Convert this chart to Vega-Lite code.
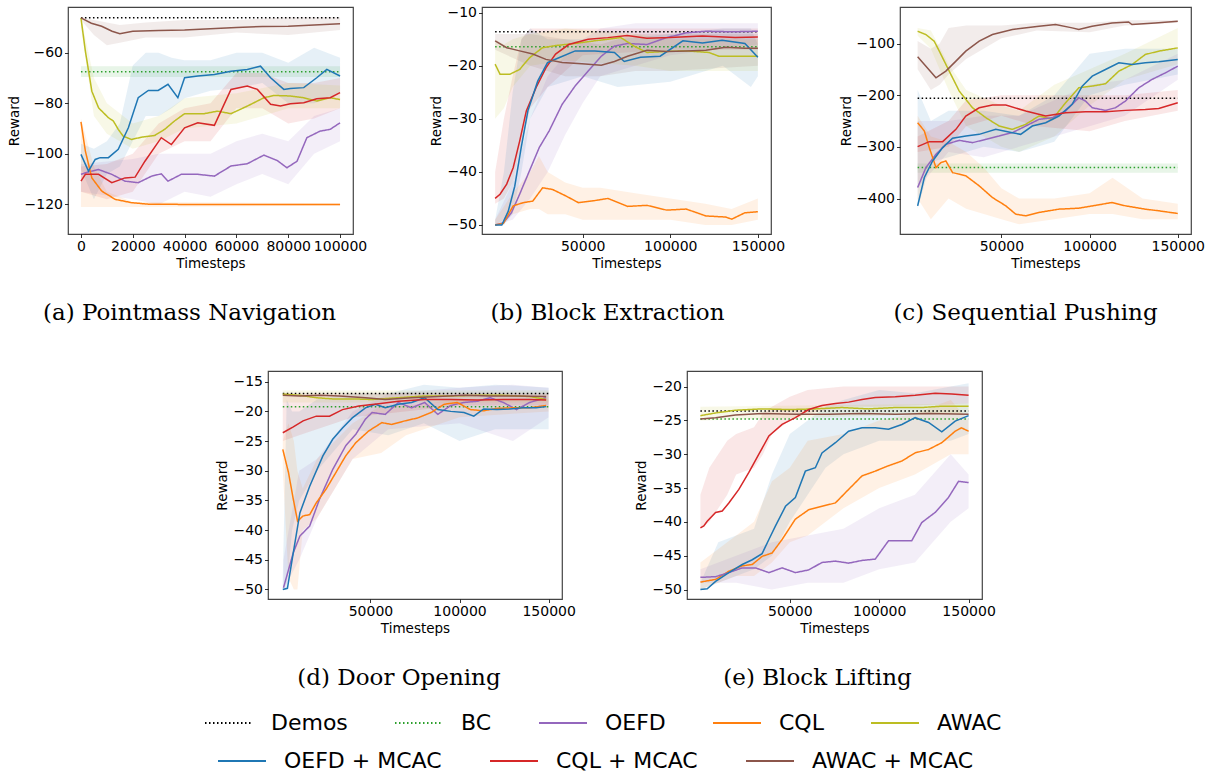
{
"$schema": "https://vega.github.io/schema/vega-lite/v6.json",
"padding": {"left": 6, "top": 5, "right": 5, "bottom": 5},
"background": "white",
"datasets": {
"lines": [
{"p":"a","m":"Demos","x":0,"y":-46.2},{"p":"a","m":"Demos","x":100000,"y":-46.2},
{"p":"a","m":"BC","x":0,"y":-67.5},{"p":"a","m":"BC","x":100000,"y":-67.5},
{"p":"a","m":"OEFD","x":0,"y":-108.1},{"p":"a","m":"OEFD","x":2900,"y":-107.1},{"p":"a","m":"OEFD","x":6800,"y":-106.2},{"p":"a","m":"OEFD","x":11900,"y":-108.1},{"p":"a","m":"OEFD","x":17000,"y":-110.8},{"p":"a","m":"OEFD","x":22100,"y":-111.4},{"p":"a","m":"OEFD","x":27300,"y":-108.8},{"p":"a","m":"OEFD","x":31000,"y":-107.9},{"p":"a","m":"OEFD","x":33600,"y":-110.8},{"p":"a","m":"OEFD","x":38700,"y":-108.1},{"p":"a","m":"OEFD","x":45100,"y":-108.1},{"p":"a","m":"OEFD","x":51500,"y":-108.8},{"p":"a","m":"OEFD","x":57900,"y":-104.8},{"p":"a","m":"OEFD","x":64200,"y":-103.9},{"p":"a","m":"OEFD","x":70600,"y":-100.5},{"p":"a","m":"OEFD","x":75700,"y":-102.6},{"p":"a","m":"OEFD","x":79500,"y":-105.5},{"p":"a","m":"OEFD","x":83400,"y":-102.9},{"p":"a","m":"OEFD","x":87200,"y":-93.6},{"p":"a","m":"OEFD","x":92300,"y":-91},{"p":"a","m":"OEFD","x":96200,"y":-90.3},{"p":"a","m":"OEFD","x":100000,"y":-87.7},
{"p":"a","m":"CQL","x":0,"y":-87.3},{"p":"a","m":"CQL","x":1700,"y":-98.9},{"p":"a","m":"CQL","x":4200,"y":-109.5},{"p":"a","m":"CQL","x":8000,"y":-114.7},{"p":"a","m":"CQL","x":13200,"y":-118},{"p":"a","m":"CQL","x":19500,"y":-119.3},{"p":"a","m":"CQL","x":26000,"y":-119.9},{"p":"a","m":"CQL","x":40000,"y":-120},{"p":"a","m":"CQL","x":100000,"y":-120},
{"p":"a","m":"AWAC","x":0,"y":-46.2},{"p":"a","m":"AWAC","x":1700,"y":-59.3},{"p":"a","m":"AWAC","x":4200,"y":-75.2},{"p":"a","m":"AWAC","x":6800,"y":-81.8},{"p":"a","m":"AWAC","x":10600,"y":-85.7},{"p":"a","m":"AWAC","x":12500,"y":-87},{"p":"a","m":"AWAC","x":14400,"y":-90.3},{"p":"a","m":"AWAC","x":16300,"y":-93},{"p":"a","m":"AWAC","x":19500,"y":-94.3},{"p":"a","m":"AWAC","x":23400,"y":-93.4},{"p":"a","m":"AWAC","x":28500,"y":-92.7},{"p":"a","m":"AWAC","x":32300,"y":-90.3},{"p":"a","m":"AWAC","x":36100,"y":-87},{"p":"a","m":"AWAC","x":40000,"y":-84.1},{"p":"a","m":"AWAC","x":47600,"y":-84.1},{"p":"a","m":"AWAC","x":52700,"y":-83.1},{"p":"a","m":"AWAC","x":57900,"y":-84.1},{"p":"a","m":"AWAC","x":64200,"y":-81.1},{"p":"a","m":"AWAC","x":70600,"y":-77.8},{"p":"a","m":"AWAC","x":74500,"y":-76.9},{"p":"a","m":"AWAC","x":80800,"y":-77.1},{"p":"a","m":"AWAC","x":86000,"y":-77.8},{"p":"a","m":"AWAC","x":91000,"y":-79.1},{"p":"a","m":"AWAC","x":96200,"y":-77.8},{"p":"a","m":"AWAC","x":100000,"y":-78.5},
{"p":"a","m":"OEFD + MCAC","x":0,"y":-100.2},{"p":"a","m":"OEFD + MCAC","x":2900,"y":-106.8},{"p":"a","m":"OEFD + MCAC","x":5500,"y":-102.2},{"p":"a","m":"OEFD + MCAC","x":7400,"y":-101.5},{"p":"a","m":"OEFD + MCAC","x":10600,"y":-101.5},{"p":"a","m":"OEFD + MCAC","x":14400,"y":-98.2},{"p":"a","m":"OEFD + MCAC","x":18300,"y":-89.7},{"p":"a","m":"OEFD + MCAC","x":22100,"y":-77.8},{"p":"a","m":"OEFD + MCAC","x":26000,"y":-74.9},{"p":"a","m":"OEFD + MCAC","x":29800,"y":-74.9},{"p":"a","m":"OEFD + MCAC","x":33600,"y":-72.5},{"p":"a","m":"OEFD + MCAC","x":37400,"y":-77.8},{"p":"a","m":"OEFD + MCAC","x":40000,"y":-69.9},{"p":"a","m":"OEFD + MCAC","x":45100,"y":-69.2},{"p":"a","m":"OEFD + MCAC","x":51500,"y":-68.6},{"p":"a","m":"OEFD + MCAC","x":57900,"y":-67.3},{"p":"a","m":"OEFD + MCAC","x":64200,"y":-66.6},{"p":"a","m":"OEFD + MCAC","x":69300,"y":-65.3},{"p":"a","m":"OEFD + MCAC","x":73200,"y":-69.9},{"p":"a","m":"OEFD + MCAC","x":78300,"y":-74.5},{"p":"a","m":"OEFD + MCAC","x":80800,"y":-74.1},{"p":"a","m":"OEFD + MCAC","x":86000,"y":-73.8},{"p":"a","m":"OEFD + MCAC","x":91000,"y":-69.9},{"p":"a","m":"OEFD + MCAC","x":94900,"y":-66.6},{"p":"a","m":"OEFD + MCAC","x":100000,"y":-69.2},
{"p":"a","m":"CQL + MCAC","x":0,"y":-110.8},{"p":"a","m":"CQL + MCAC","x":1700,"y":-108.1},{"p":"a","m":"CQL + MCAC","x":6800,"y":-108.1},{"p":"a","m":"CQL + MCAC","x":11900,"y":-111.4},{"p":"a","m":"CQL + MCAC","x":17000,"y":-109.5},{"p":"a","m":"CQL + MCAC","x":20900,"y":-109.2},{"p":"a","m":"CQL + MCAC","x":24700,"y":-102.9},{"p":"a","m":"CQL + MCAC","x":31000,"y":-93.6},{"p":"a","m":"CQL + MCAC","x":34900,"y":-96.3},{"p":"a","m":"CQL + MCAC","x":40000,"y":-89.7},{"p":"a","m":"CQL + MCAC","x":45100,"y":-87.7},{"p":"a","m":"CQL + MCAC","x":51500,"y":-88.7},{"p":"a","m":"CQL + MCAC","x":57900,"y":-74.5},{"p":"a","m":"CQL + MCAC","x":64200,"y":-73.2},{"p":"a","m":"CQL + MCAC","x":68100,"y":-74.5},{"p":"a","m":"CQL + MCAC","x":73200,"y":-80.4},{"p":"a","m":"CQL + MCAC","x":77000,"y":-81.1},{"p":"a","m":"CQL + MCAC","x":80800,"y":-80.2},{"p":"a","m":"CQL + MCAC","x":86000,"y":-79.8},{"p":"a","m":"CQL + MCAC","x":91000,"y":-78.2},{"p":"a","m":"CQL + MCAC","x":96200,"y":-77.8},{"p":"a","m":"CQL + MCAC","x":100000,"y":-75.8},
{"p":"a","m":"AWAC + MCAC","x":0,"y":-46.2},{"p":"a","m":"AWAC + MCAC","x":4000,"y":-48.3},{"p":"a","m":"AWAC + MCAC","x":8000,"y":-49.5},{"p":"a","m":"AWAC + MCAC","x":12000,"y":-51.5},{"p":"a","m":"AWAC + MCAC","x":15000,"y":-52.5},{"p":"a","m":"AWAC + MCAC","x":20000,"y":-51.5},{"p":"a","m":"AWAC + MCAC","x":30000,"y":-51.2},{"p":"a","m":"AWAC + MCAC","x":40000,"y":-51},{"p":"a","m":"AWAC + MCAC","x":50000,"y":-50.5},{"p":"a","m":"AWAC + MCAC","x":60000,"y":-50},{"p":"a","m":"AWAC + MCAC","x":70000,"y":-49.6},{"p":"a","m":"AWAC + MCAC","x":80000,"y":-49.5},{"p":"a","m":"AWAC + MCAC","x":90000,"y":-49},{"p":"a","m":"AWAC + MCAC","x":100000,"y":-48.5},

{"p":"b","m":"Demos","x":0,"y":-13.6},{"p":"b","m":"Demos","x":150000,"y":-13.6},
{"p":"b","m":"BC","x":0,"y":-16.4},{"p":"b","m":"BC","x":150000,"y":-16.4},
{"p":"b","m":"CQL + MCAC","x":0,"y":-45},{"p":"b","m":"CQL + MCAC","x":2800,"y":-44.2},{"p":"b","m":"CQL + MCAC","x":6600,"y":-42.3},{"p":"b","m":"CQL + MCAC","x":10300,"y":-39.2},{"p":"b","m":"CQL + MCAC","x":14000,"y":-34.2},{"p":"b","m":"CQL + MCAC","x":17800,"y":-28.5},{"p":"b","m":"CQL + MCAC","x":23400,"y":-24.1},{"p":"b","m":"CQL + MCAC","x":29000,"y":-20.4},{"p":"b","m":"CQL + MCAC","x":34500,"y":-17.8},{"p":"b","m":"CQL + MCAC","x":42000,"y":-16},{"p":"b","m":"CQL + MCAC","x":53100,"y":-15},{"p":"b","m":"CQL + MCAC","x":64300,"y":-14.7},{"p":"b","m":"CQL + MCAC","x":75400,"y":-14.3},{"p":"b","m":"CQL + MCAC","x":86600,"y":-14.8},{"p":"b","m":"CQL + MCAC","x":99700,"y":-14.7},{"p":"b","m":"CQL + MCAC","x":118300,"y":-14.4},{"p":"b","m":"CQL + MCAC","x":137000,"y":-14.7},{"p":"b","m":"CQL + MCAC","x":150000,"y":-14.6},
{"p":"b","m":"OEFD + MCAC","x":0,"y":-50},{"p":"b","m":"OEFD + MCAC","x":3800,"y":-50},{"p":"b","m":"OEFD + MCAC","x":7500,"y":-47.4},{"p":"b","m":"OEFD + MCAC","x":11200,"y":-42.7},{"p":"b","m":"OEFD + MCAC","x":14900,"y":-35.4},{"p":"b","m":"OEFD + MCAC","x":18700,"y":-28.5},{"p":"b","m":"OEFD + MCAC","x":24300,"y":-22.9},{"p":"b","m":"OEFD + MCAC","x":29900,"y":-19.4},{"p":"b","m":"OEFD + MCAC","x":36400,"y":-18.5},{"p":"b","m":"OEFD + MCAC","x":45700,"y":-17.2},{"p":"b","m":"OEFD + MCAC","x":56900,"y":-17.2},{"p":"b","m":"OEFD + MCAC","x":68100,"y":-17.5},{"p":"b","m":"OEFD + MCAC","x":73700,"y":-19.2},{"p":"b","m":"OEFD + MCAC","x":83000,"y":-18.4},{"p":"b","m":"OEFD + MCAC","x":94200,"y":-18.2},{"p":"b","m":"OEFD + MCAC","x":107200,"y":-15.3},{"p":"b","m":"OEFD + MCAC","x":118400,"y":-15.7},{"p":"b","m":"OEFD + MCAC","x":129600,"y":-15.2},{"p":"b","m":"OEFD + MCAC","x":142600,"y":-15.8},{"p":"b","m":"OEFD + MCAC","x":150000,"y":-18.4},
{"p":"b","m":"OEFD","x":0,"y":-50},{"p":"b","m":"OEFD","x":4700,"y":-49.6},{"p":"b","m":"OEFD","x":9300,"y":-47.7},{"p":"b","m":"OEFD","x":14000,"y":-44.2},{"p":"b","m":"OEFD","x":19600,"y":-39.8},{"p":"b","m":"OEFD","x":25200,"y":-35.4},{"p":"b","m":"OEFD","x":30800,"y":-32.3},{"p":"b","m":"OEFD","x":38200,"y":-27.3},{"p":"b","m":"OEFD","x":45700,"y":-23.8},{"p":"b","m":"OEFD","x":53100,"y":-21},{"p":"b","m":"OEFD","x":60600,"y":-18.2},{"p":"b","m":"OEFD","x":68100,"y":-16.3},{"p":"b","m":"OEFD","x":75600,"y":-15.8},{"p":"b","m":"OEFD","x":86700,"y":-16},{"p":"b","m":"OEFD","x":97900,"y":-14.7},{"p":"b","m":"OEFD","x":109100,"y":-13.8},{"p":"b","m":"OEFD","x":120300,"y":-13.5},{"p":"b","m":"OEFD","x":135100,"y":-13.6},{"p":"b","m":"OEFD","x":150000,"y":-13.5},
{"p":"b","m":"CQL","x":0,"y":-50},{"p":"b","m":"CQL","x":4700,"y":-49.7},{"p":"b","m":"CQL","x":10300,"y":-46.4},{"p":"b","m":"CQL","x":15900,"y":-45.8},{"p":"b","m":"CQL","x":21500,"y":-45.5},{"p":"b","m":"CQL","x":27100,"y":-43},{"p":"b","m":"CQL","x":32700,"y":-43.3},{"p":"b","m":"CQL","x":40200,"y":-44.5},{"p":"b","m":"CQL","x":47600,"y":-45.8},{"p":"b","m":"CQL","x":56900,"y":-45.4},{"p":"b","m":"CQL","x":64400,"y":-45},{"p":"b","m":"CQL","x":75600,"y":-46.5},{"p":"b","m":"CQL","x":86700,"y":-46.3},{"p":"b","m":"CQL","x":97900,"y":-47.2},{"p":"b","m":"CQL","x":109100,"y":-47},{"p":"b","m":"CQL","x":120300,"y":-48.3},{"p":"b","m":"CQL","x":131500,"y":-48.5},{"p":"b","m":"CQL","x":135100,"y":-48.9},{"p":"b","m":"CQL","x":142600,"y":-47.7},{"p":"b","m":"CQL","x":150000,"y":-47.5},
{"p":"b","m":"AWAC","x":0,"y":-19.7},{"p":"b","m":"AWAC","x":2800,"y":-21.6},{"p":"b","m":"AWAC","x":8400,"y":-21.6},{"p":"b","m":"AWAC","x":14000,"y":-20.7},{"p":"b","m":"AWAC","x":19600,"y":-18.5},{"p":"b","m":"AWAC","x":27000,"y":-16.6},{"p":"b","m":"AWAC","x":34500,"y":-16.2},{"p":"b","m":"AWAC","x":45700,"y":-15.8},{"p":"b","m":"AWAC","x":56900,"y":-15.3},{"p":"b","m":"AWAC","x":71800,"y":-14.7},{"p":"b","m":"AWAC","x":79300,"y":-16.3},{"p":"b","m":"AWAC","x":86700,"y":-17.5},{"p":"b","m":"AWAC","x":97900,"y":-17.3},{"p":"b","m":"AWAC","x":109100,"y":-17.2},{"p":"b","m":"AWAC","x":122100,"y":-17.5},{"p":"b","m":"AWAC","x":127700,"y":-18.2},{"p":"b","m":"AWAC","x":138900,"y":-18.2},{"p":"b","m":"AWAC","x":150000,"y":-18.2},
{"p":"b","m":"AWAC + MCAC","x":0,"y":-15.3},{"p":"b","m":"AWAC + MCAC","x":6600,"y":-16.6},{"p":"b","m":"AWAC + MCAC","x":14000,"y":-17.2},{"p":"b","m":"AWAC + MCAC","x":21500,"y":-17.8},{"p":"b","m":"AWAC + MCAC","x":29000,"y":-18.8},{"p":"b","m":"AWAC + MCAC","x":38300,"y":-19.4},{"p":"b","m":"AWAC + MCAC","x":49500,"y":-19.6},{"p":"b","m":"AWAC + MCAC","x":60600,"y":-19.9},{"p":"b","m":"AWAC + MCAC","x":68100,"y":-19.2},{"p":"b","m":"AWAC + MCAC","x":75600,"y":-18.2},{"p":"b","m":"AWAC + MCAC","x":86700,"y":-17.1},{"p":"b","m":"AWAC + MCAC","x":97900,"y":-17.3},{"p":"b","m":"AWAC + MCAC","x":109100,"y":-17.2},{"p":"b","m":"AWAC + MCAC","x":120300,"y":-17.1},{"p":"b","m":"AWAC + MCAC","x":131500,"y":-16.5},{"p":"b","m":"AWAC + MCAC","x":142600,"y":-16.7},{"p":"b","m":"AWAC + MCAC","x":150000,"y":-16.7},

{"p":"c","m":"Demos","x":2500,"y":-206},{"p":"c","m":"Demos","x":150000,"y":-206},
{"p":"c","m":"BC","x":2500,"y":-340},{"p":"c","m":"BC","x":150000,"y":-340},
{"p":"c","m":"AWAC + MCAC","x":2500,"y":-125.8},{"p":"c","m":"AWAC + MCAC","x":7200,"y":-143.8},{"p":"c","m":"AWAC + MCAC","x":12900,"y":-166.3},{"p":"c","m":"AWAC + MCAC","x":18500,"y":-153.4},{"p":"c","m":"AWAC + MCAC","x":24200,"y":-134.1},{"p":"c","m":"AWAC + MCAC","x":29800,"y":-114.8},{"p":"c","m":"AWAC + MCAC","x":37400,"y":-95.5},{"p":"c","m":"AWAC + MCAC","x":44900,"y":-82.6},{"p":"c","m":"AWAC + MCAC","x":56200,"y":-73},{"p":"c","m":"AWAC + MCAC","x":71300,"y":-66.5},{"p":"c","m":"AWAC + MCAC","x":80700,"y":-63.3},{"p":"c","m":"AWAC + MCAC","x":90100,"y":-69.7},{"p":"c","m":"AWAC + MCAC","x":93900,"y":-73},{"p":"c","m":"AWAC + MCAC","x":101400,"y":-66.5},{"p":"c","m":"AWAC + MCAC","x":112700,"y":-60.1},{"p":"c","m":"AWAC + MCAC","x":122100,"y":-58.2},{"p":"c","m":"AWAC + MCAC","x":124000,"y":-63.3},{"p":"c","m":"AWAC + MCAC","x":137200,"y":-60.1},{"p":"c","m":"AWAC + MCAC","x":150000,"y":-56.9},
{"p":"c","m":"AWAC","x":2500,"y":-76.2},{"p":"c","m":"AWAC","x":7200,"y":-82.6},{"p":"c","m":"AWAC","x":11900,"y":-95.5},{"p":"c","m":"AWAC","x":14800,"y":-114.8},{"p":"c","m":"AWAC","x":20400,"y":-153.4},{"p":"c","m":"AWAC","x":26100,"y":-192.1},{"p":"c","m":"AWAC","x":33600,"y":-224.3},{"p":"c","m":"AWAC","x":41200,"y":-243.6},{"p":"c","m":"AWAC","x":48700,"y":-259.7},{"p":"c","m":"AWAC","x":56200,"y":-266.1},{"p":"c","m":"AWAC","x":63800,"y":-256.4},{"p":"c","m":"AWAC","x":71300,"y":-240.3},{"p":"c","m":"AWAC","x":78900,"y":-246.8},{"p":"c","m":"AWAC","x":86400,"y":-214.6},{"p":"c","m":"AWAC","x":93900,"y":-185.6},{"p":"c","m":"AWAC","x":101500,"y":-182.4},{"p":"c","m":"AWAC","x":109000,"y":-177.9},{"p":"c","m":"AWAC","x":116600,"y":-153.4},{"p":"c","m":"AWAC","x":124100,"y":-140.6},{"p":"c","m":"AWAC","x":131600,"y":-121.2},{"p":"c","m":"AWAC","x":139200,"y":-114.8},{"p":"c","m":"AWAC","x":150000,"y":-108.4},
{"p":"c","m":"OEFD + MCAC","x":2500,"y":-414.2},{"p":"c","m":"OEFD + MCAC","x":6300,"y":-359.4},{"p":"c","m":"OEFD + MCAC","x":11000,"y":-327.3},{"p":"c","m":"OEFD + MCAC","x":16700,"y":-301.5},{"p":"c","m":"OEFD + MCAC","x":22300,"y":-283.5},{"p":"c","m":"OEFD + MCAC","x":29900,"y":-279},{"p":"c","m":"OEFD + MCAC","x":37400,"y":-275.8},{"p":"c","m":"OEFD + MCAC","x":46800,"y":-266.1},{"p":"c","m":"OEFD + MCAC","x":56200,"y":-272.5},{"p":"c","m":"OEFD + MCAC","x":60900,"y":-275.8},{"p":"c","m":"OEFD + MCAC","x":67500,"y":-259.7},{"p":"c","m":"OEFD + MCAC","x":75100,"y":-253.2},{"p":"c","m":"OEFD + MCAC","x":82600,"y":-240.3},{"p":"c","m":"OEFD + MCAC","x":90100,"y":-217.8},{"p":"c","m":"OEFD + MCAC","x":95800,"y":-182.4},{"p":"c","m":"OEFD + MCAC","x":101500,"y":-163.1},{"p":"c","m":"OEFD + MCAC","x":109000,"y":-150.2},{"p":"c","m":"OEFD + MCAC","x":116600,"y":-137.3},{"p":"c","m":"OEFD + MCAC","x":124100,"y":-140.6},{"p":"c","m":"OEFD + MCAC","x":131600,"y":-137.3},{"p":"c","m":"OEFD + MCAC","x":139200,"y":-135.4},{"p":"c","m":"OEFD + MCAC","x":150000,"y":-130.9},
{"p":"c","m":"OEFD","x":2500,"y":-378.8},{"p":"c","m":"OEFD","x":7200,"y":-340.1},{"p":"c","m":"OEFD","x":12900,"y":-314.4},{"p":"c","m":"OEFD","x":18500,"y":-295.1},{"p":"c","m":"OEFD","x":26100,"y":-287.4},{"p":"c","m":"OEFD","x":33600,"y":-291.9},{"p":"c","m":"OEFD","x":41200,"y":-285.4},{"p":"c","m":"OEFD","x":48700,"y":-279},{"p":"c","m":"OEFD","x":56200,"y":-272.5},{"p":"c","m":"OEFD","x":63800,"y":-259.7},{"p":"c","m":"OEFD","x":71300,"y":-246.8},{"p":"c","m":"OEFD","x":78900,"y":-243.6},{"p":"c","m":"OEFD","x":86400,"y":-230.7},{"p":"c","m":"OEFD","x":90100,"y":-217.8},{"p":"c","m":"OEFD","x":93900,"y":-204.9},{"p":"c","m":"OEFD","x":97700,"y":-211.4},{"p":"c","m":"OEFD","x":101500,"y":-224.3},{"p":"c","m":"OEFD","x":109000,"y":-229.4},{"p":"c","m":"OEFD","x":114700,"y":-224.3},{"p":"c","m":"OEFD","x":120300,"y":-211.4},{"p":"c","m":"OEFD","x":127900,"y":-185.6},{"p":"c","m":"OEFD","x":135400,"y":-169.5},{"p":"c","m":"OEFD","x":143000,"y":-156.7},{"p":"c","m":"OEFD","x":150000,"y":-143.8},
{"p":"c","m":"CQL + MCAC","x":2500,"y":-299.6},{"p":"c","m":"CQL + MCAC","x":9100,"y":-289.9},{"p":"c","m":"CQL + MCAC","x":16700,"y":-289.9},{"p":"c","m":"CQL + MCAC","x":24200,"y":-266.1},{"p":"c","m":"CQL + MCAC","x":29800,"y":-240.3},{"p":"c","m":"CQL + MCAC","x":37400,"y":-224.3},{"p":"c","m":"CQL + MCAC","x":44900,"y":-219.1},{"p":"c","m":"CQL + MCAC","x":52500,"y":-219.1},{"p":"c","m":"CQL + MCAC","x":63800,"y":-230.7},{"p":"c","m":"CQL + MCAC","x":75100,"y":-240.3},{"p":"c","m":"CQL + MCAC","x":86400,"y":-233.9},{"p":"c","m":"CQL + MCAC","x":97700,"y":-232},{"p":"c","m":"CQL + MCAC","x":109000,"y":-232},{"p":"c","m":"CQL + MCAC","x":120300,"y":-229.4},{"p":"c","m":"CQL + MCAC","x":131600,"y":-227.5},{"p":"c","m":"CQL + MCAC","x":139200,"y":-225.6},{"p":"c","m":"CQL + MCAC","x":150000,"y":-214.6},
{"p":"c","m":"CQL","x":2500,"y":-253.2},{"p":"c","m":"CQL","x":6300,"y":-269.3},{"p":"c","m":"CQL","x":9100,"y":-301.5},{"p":"c","m":"CQL","x":12900,"y":-340.1},{"p":"c","m":"CQL","x":15700,"y":-330.5},{"p":"c","m":"CQL","x":18500,"y":-327.3},{"p":"c","m":"CQL","x":22300,"y":-349.8},{"p":"c","m":"CQL","x":29900,"y":-356.2},{"p":"c","m":"CQL","x":37400,"y":-375.5},{"p":"c","m":"CQL","x":44900,"y":-398.1},{"p":"c","m":"CQL","x":52500,"y":-414.2},{"p":"c","m":"CQL","x":58100,"y":-430.3},{"p":"c","m":"CQL","x":63800,"y":-433.5},{"p":"c","m":"CQL","x":71300,"y":-427},{"p":"c","m":"CQL","x":82600,"y":-420.6},{"p":"c","m":"CQL","x":93900,"y":-418.7},{"p":"c","m":"CQL","x":105200,"y":-412.2},{"p":"c","m":"CQL","x":112700,"y":-407.7},{"p":"c","m":"CQL","x":120300,"y":-414.2},{"p":"c","m":"CQL","x":131600,"y":-420.6},{"p":"c","m":"CQL","x":139200,"y":-423.8},{"p":"c","m":"CQL","x":150000,"y":-429},

{"p":"d","m":"Demos","x":800,"y":-17},{"p":"d","m":"Demos","x":150000,"y":-17},
{"p":"d","m":"BC","x":800,"y":-19.2},{"p":"d","m":"BC","x":150000,"y":-19.2},
{"p":"d","m":"OEFD + MCAC","x":800,"y":-50},{"p":"d","m":"OEFD + MCAC","x":3400,"y":-49.8},{"p":"d","m":"OEFD + MCAC","x":6700,"y":-43.8},{"p":"d","m":"OEFD + MCAC","x":10400,"y":-37.1},{"p":"d","m":"OEFD + MCAC","x":15900,"y":-32.6},{"p":"d","m":"OEFD + MCAC","x":23300,"y":-27.5},{"p":"d","m":"OEFD + MCAC","x":28800,"y":-24.7},{"p":"d","m":"OEFD + MCAC","x":34300,"y":-22.8},{"p":"d","m":"OEFD + MCAC","x":39800,"y":-21.1},{"p":"d","m":"OEFD + MCAC","x":47200,"y":-19.4},{"p":"d","m":"OEFD + MCAC","x":52800,"y":-18.8},{"p":"d","m":"OEFD + MCAC","x":58300,"y":-19.4},{"p":"d","m":"OEFD + MCAC","x":65700,"y":-18.8},{"p":"d","m":"OEFD + MCAC","x":73100,"y":-18.5},{"p":"d","m":"OEFD + MCAC","x":80400,"y":-17.7},{"p":"d","m":"OEFD + MCAC","x":87800,"y":-19.7},{"p":"d","m":"OEFD + MCAC","x":95100,"y":-20},{"p":"d","m":"OEFD + MCAC","x":102500,"y":-20.2},{"p":"d","m":"OEFD + MCAC","x":108000,"y":-20.8},{"p":"d","m":"OEFD + MCAC","x":113500,"y":-19.6},{"p":"d","m":"OEFD + MCAC","x":120900,"y":-19.7},{"p":"d","m":"OEFD + MCAC","x":128300,"y":-19.6},{"p":"d","m":"OEFD + MCAC","x":135600,"y":-19.4},{"p":"d","m":"OEFD + MCAC","x":143000,"y":-19.4},{"p":"d","m":"OEFD + MCAC","x":148600,"y":-19.2},
{"p":"d","m":"OEFD","x":1200,"y":-49.7},{"p":"d","m":"OEFD","x":6700,"y":-43.8},{"p":"d","m":"OEFD","x":10400,"y":-41},{"p":"d","m":"OEFD","x":15900,"y":-39.3},{"p":"d","m":"OEFD","x":21400,"y":-34.8},{"p":"d","m":"OEFD","x":28800,"y":-29.8},{"p":"d","m":"OEFD","x":36100,"y":-25.8},{"p":"d","m":"OEFD","x":41700,"y":-23.9},{"p":"d","m":"OEFD","x":47200,"y":-21.3},{"p":"d","m":"OEFD","x":50900,"y":-20.2},{"p":"d","m":"OEFD","x":58300,"y":-20.5},{"p":"d","m":"OEFD","x":65700,"y":-18.5},{"p":"d","m":"OEFD","x":73100,"y":-19.4},{"p":"d","m":"OEFD","x":80400,"y":-18.5},{"p":"d","m":"OEFD","x":87800,"y":-20.5},{"p":"d","m":"OEFD","x":95100,"y":-19},{"p":"d","m":"OEFD","x":102500,"y":-18.5},{"p":"d","m":"OEFD","x":109900,"y":-18.3},{"p":"d","m":"OEFD","x":117200,"y":-17.7},{"p":"d","m":"OEFD","x":124600,"y":-18.5},{"p":"d","m":"OEFD","x":132000,"y":-19.7},{"p":"d","m":"OEFD","x":139300,"y":-18.5},{"p":"d","m":"OEFD","x":148600,"y":-17.7},
{"p":"d","m":"CQL","x":800,"y":-26.4},{"p":"d","m":"CQL","x":4000,"y":-30.3},{"p":"d","m":"CQL","x":6700,"y":-34.8},{"p":"d","m":"CQL","x":9100,"y":-38.5},{"p":"d","m":"CQL","x":12200,"y":-37.6},{"p":"d","m":"CQL","x":15900,"y":-37.4},{"p":"d","m":"CQL","x":19600,"y":-35.4},{"p":"d","m":"CQL","x":25100,"y":-33.1},{"p":"d","m":"CQL","x":30600,"y":-30.3},{"p":"d","m":"CQL","x":36100,"y":-27.5},{"p":"d","m":"CQL","x":41700,"y":-25.3},{"p":"d","m":"CQL","x":49000,"y":-23.3},{"p":"d","m":"CQL","x":56400,"y":-21.9},{"p":"d","m":"CQL","x":61900,"y":-22.2},{"p":"d","m":"CQL","x":69300,"y":-21.6},{"p":"d","m":"CQL","x":76600,"y":-21.1},{"p":"d","m":"CQL","x":84000,"y":-20.2},{"p":"d","m":"CQL","x":91400,"y":-18.8},{"p":"d","m":"CQL","x":98700,"y":-18.5},{"p":"d","m":"CQL","x":106100,"y":-19.7},{"p":"d","m":"CQL","x":113400,"y":-19.9},{"p":"d","m":"CQL","x":120800,"y":-19.5},{"p":"d","m":"CQL","x":130000,"y":-19.4},{"p":"d","m":"CQL","x":139300,"y":-19.4},{"p":"d","m":"CQL","x":148600,"y":-19},
{"p":"d","m":"CQL + MCAC","x":800,"y":-23.6},{"p":"d","m":"CQL + MCAC","x":6700,"y":-22.6},{"p":"d","m":"CQL + MCAC","x":12200,"y":-21.6},{"p":"d","m":"CQL + MCAC","x":19600,"y":-20.8},{"p":"d","m":"CQL + MCAC","x":27000,"y":-20.8},{"p":"d","m":"CQL + MCAC","x":34300,"y":-19.7},{"p":"d","m":"CQL + MCAC","x":43500,"y":-19.1},{"p":"d","m":"CQL + MCAC","x":54600,"y":-18.7},{"p":"d","m":"CQL + MCAC","x":65700,"y":-18.3},{"p":"d","m":"CQL + MCAC","x":80400,"y":-18},{"p":"d","m":"CQL + MCAC","x":95100,"y":-18},{"p":"d","m":"CQL + MCAC","x":109900,"y":-18.1},{"p":"d","m":"CQL + MCAC","x":124600,"y":-18},{"p":"d","m":"CQL + MCAC","x":139300,"y":-18},{"p":"d","m":"CQL + MCAC","x":148600,"y":-18.1},
{"p":"d","m":"AWAC","x":800,"y":-17.1},{"p":"d","m":"AWAC","x":10400,"y":-17.3},{"p":"d","m":"AWAC","x":19600,"y":-17.7},{"p":"d","m":"AWAC","x":28800,"y":-17.9},{"p":"d","m":"AWAC","x":39800,"y":-17.9},{"p":"d","m":"AWAC","x":50900,"y":-18},{"p":"d","m":"AWAC","x":65700,"y":-17.7},{"p":"d","m":"AWAC","x":80400,"y":-17.4},{"p":"d","m":"AWAC","x":95100,"y":-17.4},{"p":"d","m":"AWAC","x":109900,"y":-17.3},{"p":"d","m":"AWAC","x":124600,"y":-17.3},{"p":"d","m":"AWAC","x":139300,"y":-17.5},{"p":"d","m":"AWAC","x":148600,"y":-18},
{"p":"d","m":"AWAC + MCAC","x":800,"y":-17.3},{"p":"d","m":"AWAC + MCAC","x":10400,"y":-17.4},{"p":"d","m":"AWAC + MCAC","x":21400,"y":-17.3},{"p":"d","m":"AWAC + MCAC","x":32500,"y":-17.4},{"p":"d","m":"AWAC + MCAC","x":47200,"y":-17.7},{"p":"d","m":"AWAC + MCAC","x":58300,"y":-18},{"p":"d","m":"AWAC + MCAC","x":73100,"y":-17.7},{"p":"d","m":"AWAC + MCAC","x":87800,"y":-17.5},{"p":"d","m":"AWAC + MCAC","x":102500,"y":-17.3},{"p":"d","m":"AWAC + MCAC","x":117200,"y":-17.4},{"p":"d","m":"AWAC + MCAC","x":132000,"y":-17.4},{"p":"d","m":"AWAC + MCAC","x":148600,"y":-17.5},

{"p":"e","m":"Demos","x":0,"y":-23.6},{"p":"e","m":"Demos","x":150000,"y":-23.6},
{"p":"e","m":"BC","x":0,"y":-24.8},{"p":"e","m":"BC","x":150000,"y":-24.8},
{"p":"e","m":"CQL + MCAC","x":0,"y":-40.9},{"p":"e","m":"CQL + MCAC","x":1900,"y":-40.6},{"p":"e","m":"CQL + MCAC","x":3800,"y":-39.9},{"p":"e","m":"CQL + MCAC","x":8500,"y":-38.6},{"p":"e","m":"CQL + MCAC","x":12200,"y":-38.4},{"p":"e","m":"CQL + MCAC","x":15900,"y":-37.2},{"p":"e","m":"CQL + MCAC","x":21500,"y":-35.2},{"p":"e","m":"CQL + MCAC","x":27100,"y":-32.7},{"p":"e","m":"CQL + MCAC","x":32700,"y":-30},{"p":"e","m":"CQL + MCAC","x":38300,"y":-27.3},{"p":"e","m":"CQL + MCAC","x":45700,"y":-25.6},{"p":"e","m":"CQL + MCAC","x":53100,"y":-24.6},{"p":"e","m":"CQL + MCAC","x":60600,"y":-23.4},{"p":"e","m":"CQL + MCAC","x":68000,"y":-22.8},{"p":"e","m":"CQL + MCAC","x":75500,"y":-22.5},{"p":"e","m":"CQL + MCAC","x":82900,"y":-22.3},{"p":"e","m":"CQL + MCAC","x":90400,"y":-21.9},{"p":"e","m":"CQL + MCAC","x":97800,"y":-21.6},{"p":"e","m":"CQL + MCAC","x":109000,"y":-21.5},{"p":"e","m":"CQL + MCAC","x":120100,"y":-21.3},{"p":"e","m":"CQL + MCAC","x":131300,"y":-21},{"p":"e","m":"CQL + MCAC","x":140600,"y":-21.1},{"p":"e","m":"CQL + MCAC","x":150000,"y":-21.3},
{"p":"e","m":"AWAC","x":0,"y":-24.3},{"p":"e","m":"AWAC","x":8500,"y":-23.9},{"p":"e","m":"AWAC","x":19600,"y":-23.5},{"p":"e","m":"AWAC","x":34500,"y":-23.3},{"p":"e","m":"AWAC","x":49400,"y":-23.4},{"p":"e","m":"AWAC","x":64300,"y":-23.3},{"p":"e","m":"AWAC","x":79200,"y":-23.1},{"p":"e","m":"AWAC","x":94000,"y":-23.3},{"p":"e","m":"AWAC","x":109000,"y":-23.1},{"p":"e","m":"AWAC","x":123800,"y":-23.1},{"p":"e","m":"AWAC","x":135000,"y":-22.9},{"p":"e","m":"AWAC","x":150000,"y":-22.9},
{"p":"e","m":"AWAC + MCAC","x":0,"y":-24.8},{"p":"e","m":"AWAC + MCAC","x":8500,"y":-24.6},{"p":"e","m":"AWAC + MCAC","x":19600,"y":-24.2},{"p":"e","m":"AWAC + MCAC","x":34500,"y":-24},{"p":"e","m":"AWAC + MCAC","x":53100,"y":-24.1},{"p":"e","m":"AWAC + MCAC","x":71700,"y":-24.1},{"p":"e","m":"AWAC + MCAC","x":90400,"y":-24},{"p":"e","m":"AWAC + MCAC","x":109000,"y":-24.1},{"p":"e","m":"AWAC + MCAC","x":127600,"y":-24},{"p":"e","m":"AWAC + MCAC","x":150000,"y":-24.1},
{"p":"e","m":"OEFD + MCAC","x":0,"y":-50},{"p":"e","m":"OEFD + MCAC","x":3800,"y":-49.9},{"p":"e","m":"OEFD + MCAC","x":8500,"y":-48.8},{"p":"e","m":"OEFD + MCAC","x":15900,"y":-47.5},{"p":"e","m":"OEFD + MCAC","x":23400,"y":-46.3},{"p":"e","m":"OEFD + MCAC","x":29000,"y":-45.6},{"p":"e","m":"OEFD + MCAC","x":34500,"y":-44.7},{"p":"e","m":"OEFD + MCAC","x":38300,"y":-42.6},{"p":"e","m":"OEFD + MCAC","x":42000,"y":-40.6},{"p":"e","m":"OEFD + MCAC","x":47600,"y":-37.7},{"p":"e","m":"OEFD + MCAC","x":53100,"y":-36.4},{"p":"e","m":"OEFD + MCAC","x":58700,"y":-32.5},{"p":"e","m":"OEFD + MCAC","x":64300,"y":-32},{"p":"e","m":"OEFD + MCAC","x":68000,"y":-29.8},{"p":"e","m":"OEFD + MCAC","x":75500,"y":-28.3},{"p":"e","m":"OEFD + MCAC","x":82900,"y":-26.6},{"p":"e","m":"OEFD + MCAC","x":90400,"y":-26.1},{"p":"e","m":"OEFD + MCAC","x":97800,"y":-26.1},{"p":"e","m":"OEFD + MCAC","x":105200,"y":-26.3},{"p":"e","m":"OEFD + MCAC","x":112700,"y":-25.6},{"p":"e","m":"OEFD + MCAC","x":120100,"y":-24.6},{"p":"e","m":"OEFD + MCAC","x":127600,"y":-25.3},{"p":"e","m":"OEFD + MCAC","x":135000,"y":-26.7},{"p":"e","m":"OEFD + MCAC","x":142500,"y":-25.1},{"p":"e","m":"OEFD + MCAC","x":150000,"y":-24.3},
{"p":"e","m":"CQL","x":0,"y":-48.9},{"p":"e","m":"CQL","x":8500,"y":-48.5},{"p":"e","m":"CQL","x":15900,"y":-47.3},{"p":"e","m":"CQL","x":23400,"y":-46.5},{"p":"e","m":"CQL","x":29000,"y":-46.3},{"p":"e","m":"CQL","x":34500,"y":-45.1},{"p":"e","m":"CQL","x":40100,"y":-44.6},{"p":"e","m":"CQL","x":45700,"y":-42.6},{"p":"e","m":"CQL","x":53100,"y":-39.6},{"p":"e","m":"CQL","x":60600,"y":-38.2},{"p":"e","m":"CQL","x":68000,"y":-37.7},{"p":"e","m":"CQL","x":75500,"y":-37.2},{"p":"e","m":"CQL","x":82900,"y":-35.2},{"p":"e","m":"CQL","x":90400,"y":-33.2},{"p":"e","m":"CQL","x":97800,"y":-32.5},{"p":"e","m":"CQL","x":105200,"y":-31.7},{"p":"e","m":"CQL","x":112700,"y":-31},{"p":"e","m":"CQL","x":120100,"y":-29.8},{"p":"e","m":"CQL","x":127600,"y":-29.3},{"p":"e","m":"CQL","x":135000,"y":-28.3},{"p":"e","m":"CQL","x":142500,"y":-26.6},{"p":"e","m":"CQL","x":146000,"y":-26.1},{"p":"e","m":"CQL","x":150000,"y":-26.6},
{"p":"e","m":"OEFD","x":0,"y":-48.2},{"p":"e","m":"OEFD","x":8500,"y":-48.1},{"p":"e","m":"OEFD","x":15900,"y":-47.5},{"p":"e","m":"OEFD","x":23400,"y":-46.8},{"p":"e","m":"OEFD","x":30800,"y":-46.8},{"p":"e","m":"OEFD","x":38300,"y":-47.5},{"p":"e","m":"OEFD","x":45700,"y":-46.8},{"p":"e","m":"OEFD","x":53100,"y":-47.5},{"p":"e","m":"OEFD","x":60600,"y":-47.1},{"p":"e","m":"OEFD","x":68000,"y":-46},{"p":"e","m":"OEFD","x":75500,"y":-45.8},{"p":"e","m":"OEFD","x":82900,"y":-46.1},{"p":"e","m":"OEFD","x":90400,"y":-45.7},{"p":"e","m":"OEFD","x":97800,"y":-45.5},{"p":"e","m":"OEFD","x":105200,"y":-42.8},{"p":"e","m":"OEFD","x":112700,"y":-42.8},{"p":"e","m":"OEFD","x":118200,"y":-42.8},{"p":"e","m":"OEFD","x":123800,"y":-40.1},{"p":"e","m":"OEFD","x":131300,"y":-38.6},{"p":"e","m":"OEFD","x":138700,"y":-36.4},{"p":"e","m":"OEFD","x":144400,"y":-34},{"p":"e","m":"OEFD","x":150000,"y":-34.2}
],
"bands": [
{"p":"a","m":"BC","x":0,"lo":-69.6,"hi":-65.3},{"p":"a","m":"BC","x":100000,"lo":-69.6,"hi":-65.3},
{"p":"a","m":"AWAC + MCAC","x":0,"lo":-47,"hi":-46},{"p":"a","m":"AWAC + MCAC","x":5000,"lo":-53,"hi":-47},{"p":"a","m":"AWAC + MCAC","x":10000,"lo":-57,"hi":-48},{"p":"a","m":"AWAC + MCAC","x":15000,"lo":-56,"hi":-49},{"p":"a","m":"AWAC + MCAC","x":25000,"lo":-54,"hi":-48},{"p":"a","m":"AWAC + MCAC","x":40000,"lo":-54,"hi":-47},{"p":"a","m":"AWAC + MCAC","x":60000,"lo":-52,"hi":-47},{"p":"a","m":"AWAC + MCAC","x":80000,"lo":-53,"hi":-46},{"p":"a","m":"AWAC + MCAC","x":100000,"lo":-51,"hi":-46},
{"p":"a","m":"OEFD + MCAC","x":0,"lo":-106,"hi":-96},{"p":"a","m":"OEFD + MCAC","x":5000,"lo":-118,"hi":-98},{"p":"a","m":"OEFD + MCAC","x":10000,"lo":-108,"hi":-95},{"p":"a","m":"OEFD + MCAC","x":15000,"lo":-105,"hi":-88},{"p":"a","m":"OEFD + MCAC","x":20000,"lo":-95,"hi":-65},{"p":"a","m":"OEFD + MCAC","x":25000,"lo":-85,"hi":-60},{"p":"a","m":"OEFD + MCAC","x":30000,"lo":-85,"hi":-60},{"p":"a","m":"OEFD + MCAC","x":35000,"lo":-82,"hi":-62},{"p":"a","m":"OEFD + MCAC","x":40000,"lo":-78,"hi":-63},{"p":"a","m":"OEFD + MCAC","x":50000,"lo":-75,"hi":-63},{"p":"a","m":"OEFD + MCAC","x":60000,"lo":-74,"hi":-60},{"p":"a","m":"OEFD + MCAC","x":70000,"lo":-72,"hi":-60},{"p":"a","m":"OEFD + MCAC","x":80000,"lo":-80,"hi":-64},{"p":"a","m":"OEFD + MCAC","x":90000,"lo":-80,"hi":-58},{"p":"a","m":"OEFD + MCAC","x":100000,"lo":-76,"hi":-62},
{"p":"a","m":"CQL + MCAC","x":0,"lo":-115,"hi":-105},{"p":"a","m":"CQL + MCAC","x":10000,"lo":-118,"hi":-104},{"p":"a","m":"CQL + MCAC","x":20000,"lo":-115,"hi":-100},{"p":"a","m":"CQL + MCAC","x":30000,"lo":-100,"hi":-88},{"p":"a","m":"CQL + MCAC","x":40000,"lo":-95,"hi":-82},{"p":"a","m":"CQL + MCAC","x":50000,"lo":-95,"hi":-80},{"p":"a","m":"CQL + MCAC","x":60000,"lo":-82,"hi":-68},{"p":"a","m":"CQL + MCAC","x":70000,"lo":-82,"hi":-68},{"p":"a","m":"CQL + MCAC","x":80000,"lo":-88,"hi":-72},{"p":"a","m":"CQL + MCAC","x":90000,"lo":-86,"hi":-72},{"p":"a","m":"CQL + MCAC","x":100000,"lo":-82,"hi":-70},
{"p":"a","m":"OEFD","x":0,"lo":-115,"hi":-104},{"p":"a","m":"OEFD","x":20000,"lo":-118,"hi":-102},{"p":"a","m":"OEFD","x":30000,"lo":-120,"hi":-100},{"p":"a","m":"OEFD","x":40000,"lo":-115,"hi":-100},{"p":"a","m":"OEFD","x":50000,"lo":-117,"hi":-100},{"p":"a","m":"OEFD","x":60000,"lo":-112,"hi":-95},{"p":"a","m":"OEFD","x":70000,"lo":-108,"hi":-92},{"p":"a","m":"OEFD","x":80000,"lo":-112,"hi":-95},{"p":"a","m":"OEFD","x":90000,"lo":-100,"hi":-85},{"p":"a","m":"OEFD","x":100000,"lo":-95,"hi":-82},
{"p":"a","m":"AWAC","x":0,"lo":-50,"hi":-46},{"p":"a","m":"AWAC","x":5000,"lo":-85,"hi":-70},{"p":"a","m":"AWAC","x":10000,"lo":-92,"hi":-80},{"p":"a","m":"AWAC","x":20000,"lo":-98,"hi":-88},{"p":"a","m":"AWAC","x":30000,"lo":-95,"hi":-85},{"p":"a","m":"AWAC","x":40000,"lo":-90,"hi":-78},{"p":"a","m":"AWAC","x":60000,"lo":-88,"hi":-76},{"p":"a","m":"AWAC","x":80000,"lo":-82,"hi":-72},{"p":"a","m":"AWAC","x":100000,"lo":-82,"hi":-73},
{"p":"a","m":"CQL","x":0,"lo":-121,"hi":-86},{"p":"a","m":"CQL","x":5000,"lo":-121,"hi":-105},{"p":"a","m":"CQL","x":10000,"lo":-121,"hi":-115},{"p":"a","m":"CQL","x":20000,"lo":-121,"hi":-119},{"p":"a","m":"CQL","x":100000,"lo":-120.5,"hi":-119.5},

{"p":"b","m":"CQL + MCAC","x":0,"lo":-46,"hi":-40},{"p":"b","m":"CQL + MCAC","x":5000,"lo":-45,"hi":-30},{"p":"b","m":"CQL + MCAC","x":10000,"lo":-42,"hi":-22},{"p":"b","m":"CQL + MCAC","x":15000,"lo":-35,"hi":-15},{"p":"b","m":"CQL + MCAC","x":20000,"lo":-28,"hi":-13},{"p":"b","m":"CQL + MCAC","x":30000,"lo":-24,"hi":-13},{"p":"b","m":"CQL + MCAC","x":50000,"lo":-18,"hi":-13},{"p":"b","m":"CQL + MCAC","x":100000,"lo":-17,"hi":-13},{"p":"b","m":"CQL + MCAC","x":150000,"lo":-17,"hi":-13},
{"p":"b","m":"OEFD + MCAC","x":0,"lo":-50,"hi":-49},{"p":"b","m":"OEFD + MCAC","x":5000,"lo":-50,"hi":-40},{"p":"b","m":"OEFD + MCAC","x":10000,"lo":-48,"hi":-25},{"p":"b","m":"OEFD + MCAC","x":15000,"lo":-40,"hi":-15},{"p":"b","m":"OEFD + MCAC","x":20000,"lo":-30,"hi":-13},{"p":"b","m":"OEFD + MCAC","x":30000,"lo":-24,"hi":-15},{"p":"b","m":"OEFD + MCAC","x":50000,"lo":-22,"hi":-15},{"p":"b","m":"OEFD + MCAC","x":70000,"lo":-24,"hi":-15},{"p":"b","m":"OEFD + MCAC","x":100000,"lo":-23,"hi":-14},{"p":"b","m":"OEFD + MCAC","x":130000,"lo":-20,"hi":-13},{"p":"b","m":"OEFD + MCAC","x":146000,"lo":-24,"hi":-13},{"p":"b","m":"OEFD + MCAC","x":150000,"lo":-22,"hi":-16},
{"p":"b","m":"OEFD","x":0,"lo":-50,"hi":-49},{"p":"b","m":"OEFD","x":10000,"lo":-49,"hi":-42},{"p":"b","m":"OEFD","x":20000,"lo":-45,"hi":-30},{"p":"b","m":"OEFD","x":30000,"lo":-40,"hi":-22},{"p":"b","m":"OEFD","x":40000,"lo":-33,"hi":-18},{"p":"b","m":"OEFD","x":50000,"lo":-27,"hi":-15},{"p":"b","m":"OEFD","x":60000,"lo":-22,"hi":-13},{"p":"b","m":"OEFD","x":80000,"lo":-20,"hi":-12},{"p":"b","m":"OEFD","x":100000,"lo":-18,"hi":-12},{"p":"b","m":"OEFD","x":150000,"lo":-16,"hi":-12},
{"p":"b","m":"AWAC","x":0,"lo":-30,"hi":-15},{"p":"b","m":"AWAC","x":5000,"lo":-28,"hi":-16},{"p":"b","m":"AWAC","x":10000,"lo":-24,"hi":-15},{"p":"b","m":"AWAC","x":20000,"lo":-20,"hi":-14},{"p":"b","m":"AWAC","x":40000,"lo":-19,"hi":-13},{"p":"b","m":"AWAC","x":80000,"lo":-20,"hi":-14},{"p":"b","m":"AWAC","x":100000,"lo":-21,"hi":-15},{"p":"b","m":"AWAC","x":150000,"lo":-21,"hi":-15},
{"p":"b","m":"AWAC + MCAC","x":0,"lo":-17,"hi":-14},{"p":"b","m":"AWAC + MCAC","x":20000,"lo":-20,"hi":-14},{"p":"b","m":"AWAC + MCAC","x":40000,"lo":-22,"hi":-15},{"p":"b","m":"AWAC + MCAC","x":60000,"lo":-22,"hi":-16},{"p":"b","m":"AWAC + MCAC","x":80000,"lo":-21,"hi":-14},{"p":"b","m":"AWAC + MCAC","x":100000,"lo":-21,"hi":-14},{"p":"b","m":"AWAC + MCAC","x":150000,"lo":-20,"hi":-14},
{"p":"b","m":"CQL","x":0,"lo":-50,"hi":-49},{"p":"b","m":"CQL","x":10000,"lo":-48,"hi":-44},{"p":"b","m":"CQL","x":20000,"lo":-47,"hi":-40},{"p":"b","m":"CQL","x":25000,"lo":-47,"hi":-37},{"p":"b","m":"CQL","x":30000,"lo":-48,"hi":-40},{"p":"b","m":"CQL","x":40000,"lo":-48,"hi":-42},{"p":"b","m":"CQL","x":50000,"lo":-49,"hi":-43},{"p":"b","m":"CQL","x":60000,"lo":-49,"hi":-43},{"p":"b","m":"CQL","x":80000,"lo":-49,"hi":-44},{"p":"b","m":"CQL","x":100000,"lo":-49,"hi":-45},{"p":"b","m":"CQL","x":120000,"lo":-50,"hi":-46},{"p":"b","m":"CQL","x":135000,"lo":-50,"hi":-47},{"p":"b","m":"CQL","x":150000,"lo":-49,"hi":-45},

{"p":"c","m":"BC","x":2500,"lo":-350,"hi":-332},{"p":"c","m":"BC","x":150000,"lo":-350,"hi":-332},
{"p":"c","m":"AWAC + MCAC","x":2500,"lo":-150,"hi":-95},{"p":"c","m":"AWAC + MCAC","x":10000,"lo":-190,"hi":-110},{"p":"c","m":"AWAC + MCAC","x":15000,"lo":-180,"hi":-100},{"p":"c","m":"AWAC + MCAC","x":20000,"lo":-160,"hi":-70},{"p":"c","m":"AWAC + MCAC","x":30000,"lo":-130,"hi":-65},{"p":"c","m":"AWAC + MCAC","x":50000,"lo":-90,"hi":-65},{"p":"c","m":"AWAC + MCAC","x":70000,"lo":-75,"hi":-60},{"p":"c","m":"AWAC + MCAC","x":100000,"lo":-78,"hi":-60},{"p":"c","m":"AWAC + MCAC","x":120000,"lo":-65,"hi":-55},{"p":"c","m":"AWAC + MCAC","x":150000,"lo":-60,"hi":-55},
{"p":"c","m":"AWAC","x":2500,"lo":-85,"hi":-70},{"p":"c","m":"AWAC","x":10000,"lo":-110,"hi":-75},{"p":"c","m":"AWAC","x":20000,"lo":-190,"hi":-140},{"p":"c","m":"AWAC","x":30000,"lo":-260,"hi":-190},{"p":"c","m":"AWAC","x":50000,"lo":-300,"hi":-220},{"p":"c","m":"AWAC","x":60000,"lo":-310,"hi":-230},{"p":"c","m":"AWAC","x":80000,"lo":-280,"hi":-180},{"p":"c","m":"AWAC","x":100000,"lo":-220,"hi":-150},{"p":"c","m":"AWAC","x":120000,"lo":-170,"hi":-120},{"p":"c","m":"AWAC","x":150000,"lo":-140,"hi":-70},
{"p":"c","m":"OEFD + MCAC","x":2500,"lo":-420,"hi":-190},{"p":"c","m":"OEFD + MCAC","x":10000,"lo":-330,"hi":-250},{"p":"c","m":"OEFD + MCAC","x":20000,"lo":-320,"hi":-230},{"p":"c","m":"OEFD + MCAC","x":40000,"lo":-300,"hi":-230},{"p":"c","m":"OEFD + MCAC","x":60000,"lo":-310,"hi":-240},{"p":"c","m":"OEFD + MCAC","x":80000,"lo":-290,"hi":-200},{"p":"c","m":"OEFD + MCAC","x":100000,"lo":-200,"hi":-120},{"p":"c","m":"OEFD + MCAC","x":120000,"lo":-180,"hi":-110},{"p":"c","m":"OEFD + MCAC","x":150000,"lo":-160,"hi":-110},
{"p":"c","m":"OEFD","x":2500,"lo":-380,"hi":-250},{"p":"c","m":"OEFD","x":20000,"lo":-310,"hi":-250},{"p":"c","m":"OEFD","x":40000,"lo":-320,"hi":-240},{"p":"c","m":"OEFD","x":60000,"lo":-300,"hi":-240},{"p":"c","m":"OEFD","x":80000,"lo":-280,"hi":-210},{"p":"c","m":"OEFD","x":100000,"lo":-260,"hi":-180},{"p":"c","m":"OEFD","x":120000,"lo":-240,"hi":-170},{"p":"c","m":"OEFD","x":150000,"lo":-170,"hi":-120},
{"p":"c","m":"CQL + MCAC","x":2500,"lo":-310,"hi":-280},{"p":"c","m":"CQL + MCAC","x":20000,"lo":-300,"hi":-250},{"p":"c","m":"CQL + MCAC","x":30000,"lo":-260,"hi":-210},{"p":"c","m":"CQL + MCAC","x":50000,"lo":-240,"hi":-200},{"p":"c","m":"CQL + MCAC","x":70000,"lo":-260,"hi":-200},{"p":"c","m":"CQL + MCAC","x":100000,"lo":-270,"hi":-200},{"p":"c","m":"CQL + MCAC","x":120000,"lo":-250,"hi":-200},{"p":"c","m":"CQL + MCAC","x":150000,"lo":-230,"hi":-190},
{"p":"c","m":"CQL","x":2500,"lo":-400,"hi":-240},{"p":"c","m":"CQL","x":10000,"lo":-440,"hi":-280},{"p":"c","m":"CQL","x":20000,"lo":-400,"hi":-290},{"p":"c","m":"CQL","x":30000,"lo":-420,"hi":-310},{"p":"c","m":"CQL","x":40000,"lo":-430,"hi":-340},{"p":"c","m":"CQL","x":50000,"lo":-440,"hi":-380},{"p":"c","m":"CQL","x":60000,"lo":-450,"hi":-400},{"p":"c","m":"CQL","x":80000,"lo":-440,"hi":-400},{"p":"c","m":"CQL","x":100000,"lo":-430,"hi":-390},{"p":"c","m":"CQL","x":113000,"lo":-430,"hi":-360},{"p":"c","m":"CQL","x":130000,"lo":-440,"hi":-400},{"p":"c","m":"CQL","x":150000,"lo":-440,"hi":-410},

{"p":"d","m":"OEFD + MCAC","x":800,"lo":-50,"hi":-48},{"p":"d","m":"OEFD + MCAC","x":3000,"lo":-50,"hi":-18},{"p":"d","m":"OEFD + MCAC","x":6000,"lo":-40,"hi":-20},{"p":"d","m":"OEFD + MCAC","x":10000,"lo":-35,"hi":-20},{"p":"d","m":"OEFD + MCAC","x":20000,"lo":-30,"hi":-18},{"p":"d","m":"OEFD + MCAC","x":40000,"lo":-23,"hi":-17},{"p":"d","m":"OEFD + MCAC","x":60000,"lo":-24,"hi":-17},{"p":"d","m":"OEFD + MCAC","x":80000,"lo":-22,"hi":-15.5},{"p":"d","m":"OEFD + MCAC","x":100000,"lo":-25,"hi":-16},{"p":"d","m":"OEFD + MCAC","x":120000,"lo":-23,"hi":-15.5},{"p":"d","m":"OEFD + MCAC","x":150000,"lo":-23,"hi":-16},
{"p":"d","m":"CQL","x":800,"lo":-30,"hi":-25},{"p":"d","m":"CQL","x":4000,"lo":-48,"hi":-22},{"p":"d","m":"CQL","x":7000,"lo":-50,"hi":-25},{"p":"d","m":"CQL","x":9000,"lo":-50,"hi":-30},{"p":"d","m":"CQL","x":12000,"lo":-40,"hi":-33},{"p":"d","m":"CQL","x":20000,"lo":-38,"hi":-28},{"p":"d","m":"CQL","x":40000,"lo":-28,"hi":-22},{"p":"d","m":"CQL","x":56000,"lo":-27,"hi":-19},{"p":"d","m":"CQL","x":70000,"lo":-24,"hi":-19},{"p":"d","m":"CQL","x":100000,"lo":-21,"hi":-18},{"p":"d","m":"CQL","x":150000,"lo":-20,"hi":-18},
{"p":"d","m":"OEFD","x":1200,"lo":-50,"hi":-45},{"p":"d","m":"OEFD","x":10000,"lo":-45,"hi":-30},{"p":"d","m":"OEFD","x":20000,"lo":-38,"hi":-28},{"p":"d","m":"OEFD","x":40000,"lo":-28,"hi":-20},{"p":"d","m":"OEFD","x":60000,"lo":-23,"hi":-17},{"p":"d","m":"OEFD","x":100000,"lo":-22,"hi":-16},{"p":"d","m":"OEFD","x":130000,"lo":-25,"hi":-15.5},{"p":"d","m":"OEFD","x":150000,"lo":-21,"hi":-16},
{"p":"d","m":"CQL + MCAC","x":800,"lo":-25,"hi":-17},{"p":"d","m":"CQL + MCAC","x":10000,"lo":-24,"hi":-17},{"p":"d","m":"CQL + MCAC","x":20000,"lo":-23,"hi":-17},{"p":"d","m":"CQL + MCAC","x":40000,"lo":-21,"hi":-17},{"p":"d","m":"CQL + MCAC","x":100000,"lo":-19,"hi":-17},{"p":"d","m":"CQL + MCAC","x":150000,"lo":-19,"hi":-17},
{"p":"d","m":"AWAC","x":800,"lo":-18.5,"hi":-16.5},{"p":"d","m":"AWAC","x":150000,"lo":-18.5,"hi":-16.5},

{"p":"e","m":"CQL + MCAC","x":0,"lo":-41,"hi":-36},{"p":"e","m":"CQL + MCAC","x":5000,"lo":-40,"hi":-32},{"p":"e","m":"CQL + MCAC","x":10000,"lo":-38,"hi":-30},{"p":"e","m":"CQL + MCAC","x":15000,"lo":-36,"hi":-28},{"p":"e","m":"CQL + MCAC","x":20000,"lo":-33,"hi":-27},{"p":"e","m":"CQL + MCAC","x":30000,"lo":-32,"hi":-26},{"p":"e","m":"CQL + MCAC","x":35000,"lo":-30,"hi":-24},{"p":"e","m":"CQL + MCAC","x":40000,"lo":-27,"hi":-23},{"p":"e","m":"CQL + MCAC","x":50000,"lo":-25,"hi":-21.5},{"p":"e","m":"CQL + MCAC","x":60000,"lo":-24,"hi":-20.5},{"p":"e","m":"CQL + MCAC","x":80000,"lo":-23,"hi":-20},{"p":"e","m":"CQL + MCAC","x":100000,"lo":-23,"hi":-20},{"p":"e","m":"CQL + MCAC","x":150000,"lo":-22.5,"hi":-20},
{"p":"e","m":"OEFD + MCAC","x":0,"lo":-50,"hi":-49},{"p":"e","m":"OEFD + MCAC","x":10000,"lo":-49,"hi":-43},{"p":"e","m":"OEFD + MCAC","x":20000,"lo":-48,"hi":-42},{"p":"e","m":"OEFD + MCAC","x":30000,"lo":-47,"hi":-41},{"p":"e","m":"OEFD + MCAC","x":40000,"lo":-45,"hi":-33},{"p":"e","m":"OEFD + MCAC","x":50000,"lo":-40,"hi":-27},{"p":"e","m":"OEFD + MCAC","x":60000,"lo":-36,"hi":-25},{"p":"e","m":"OEFD + MCAC","x":70000,"lo":-32,"hi":-23},{"p":"e","m":"OEFD + MCAC","x":80000,"lo":-30,"hi":-22},{"p":"e","m":"OEFD + MCAC","x":100000,"lo":-28,"hi":-20.5},{"p":"e","m":"OEFD + MCAC","x":120000,"lo":-28,"hi":-21},{"p":"e","m":"OEFD + MCAC","x":140000,"lo":-28,"hi":-20},{"p":"e","m":"OEFD + MCAC","x":150000,"lo":-27,"hi":-19.5},
{"p":"e","m":"CQL","x":0,"lo":-50,"hi":-46},{"p":"e","m":"CQL","x":10000,"lo":-49,"hi":-44},{"p":"e","m":"CQL","x":20000,"lo":-48,"hi":-42},{"p":"e","m":"CQL","x":30000,"lo":-48,"hi":-40},{"p":"e","m":"CQL","x":40000,"lo":-46,"hi":-34},{"p":"e","m":"CQL","x":50000,"lo":-43,"hi":-32},{"p":"e","m":"CQL","x":60000,"lo":-42,"hi":-28},{"p":"e","m":"CQL","x":80000,"lo":-38,"hi":-27},{"p":"e","m":"CQL","x":100000,"lo":-35,"hi":-25},{"p":"e","m":"CQL","x":120000,"lo":-33,"hi":-24},{"p":"e","m":"CQL","x":140000,"lo":-30,"hi":-22},{"p":"e","m":"CQL","x":150000,"lo":-30,"hi":-25},
{"p":"e","m":"OEFD","x":0,"lo":-49,"hi":-47},{"p":"e","m":"OEFD","x":20000,"lo":-49,"hi":-45},{"p":"e","m":"OEFD","x":40000,"lo":-50,"hi":-43},{"p":"e","m":"OEFD","x":60000,"lo":-49,"hi":-42},{"p":"e","m":"OEFD","x":80000,"lo":-49,"hi":-41},{"p":"e","m":"OEFD","x":100000,"lo":-47,"hi":-38},{"p":"e","m":"OEFD","x":120000,"lo":-46,"hi":-36},{"p":"e","m":"OEFD","x":140000,"lo":-40,"hi":-30},{"p":"e","m":"OEFD","x":150000,"lo":-38,"hi":-33},
{"p":"e","m":"AWAC","x":0,"lo":-25,"hi":-23},{"p":"e","m":"AWAC","x":150000,"lo":-24,"hi":-22.5}
]
},
"vconcat": [
 {"hconcat": [
  {"width": 285, "height": 227,
   "title": {"text": "(a) Pointmass Navigation", "dx": -21},
   "layer": [
    {"data": {"name": "bands"}, "transform": [{"filter": "datum.p == 'a'"}], "mark": {"type": "area", "opacity": 0.11},
     "encoding": {"x": {"field": "x", "type": "quantitative", "scale": {"domain": [-5000, 105000], "nice": false, "zero": false}, "axis": {"values": [0, 20000, 40000, 60000, 80000, 100000], "format": "d", "title": "Timesteps", "labelOverlap": false, "tickCount": 20}},
      "y": {"field": "lo", "type": "quantitative", "scale": {"domain": [-131.7, -41.9], "nice": false, "zero": false}, "axis": {"values": [-120, -100, -80, -60], "format": "d", "title": "Reward", "labelOverlap": false, "tickCount": 20}}, "y2": {"field": "hi"},
      "fill": {"field": "m", "type": "nominal", "scale": {"domain": ["Demos","BC","OEFD","CQL","AWAC","OEFD + MCAC","CQL + MCAC","AWAC + MCAC"], "range": ["#000000","#2ca02c","#9467bd","#ff7f0e","#bcbd22","#1f77b4","#d62728","#8c564b"]}, "legend": null}}},
    {"data": {"name": "lines"}, "transform": [{"filter": "datum.p == 'a' && indexof(['Demos','BC','OEFD','CQL','AWAC'], datum.m) >= 0"}], "mark": {"type": "line", "strokeWidth": 1.5},
     "encoding": {"x": {"field": "x", "type": "quantitative"}, "y": {"field": "y", "type": "quantitative"},
      "color": {"field": "m", "type": "nominal", "scale": {"domain": ["Demos","BC","OEFD","CQL","AWAC"], "range": ["#000000","#2ca02c","#9467bd","#ff7f0e","#bcbd22"]}, "legend": {"orient": "none", "legendX": 136, "legendY": 691, "direction": "horizontal", "title": null, "columnPadding": 43}},
      "strokeDash": {"field": "m", "type": "nominal", "scale": {"domain": ["Demos","BC","OEFD","CQL","AWAC"], "range": [[1.5,2.5],[1.5,2.5],[1,0],[1,0],[1,0]]}, "legend": {"orient": "none", "legendX": 136, "legendY": 691, "direction": "horizontal", "title": null, "columnPadding": 43}}}},
    {"data": {"name": "lines"}, "transform": [{"filter": "datum.p == 'a' && indexof(['OEFD + MCAC','CQL + MCAC','AWAC + MCAC'], datum.m) >= 0"}], "mark": {"type": "line", "strokeWidth": 1.5},
     "encoding": {"x": {"field": "x", "type": "quantitative"}, "y": {"field": "y", "type": "quantitative"},
      "stroke": {"field": "m", "type": "nominal", "scale": {"domain": ["OEFD + MCAC","CQL + MCAC","AWAC + MCAC"], "range": ["#1f77b4","#d62728","#8c564b"]}, "legend": {"orient": "none", "legendX": 149, "legendY": 729, "direction": "horizontal", "title": null, "columnPadding": 44}}}}
   ]},
  {"width": 289, "height": 227,
   "title": {"text": "(b) Block Extraction", "dx": -19},
   "layer": [
    {"data": {"name": "bands"}, "transform": [{"filter": "datum.p == 'b'"}], "mark": {"type": "area", "opacity": 0.11},
     "encoding": {"x": {"field": "x", "type": "quantitative", "scale": {"domain": [-7500, 157500], "nice": false, "zero": false}, "axis": {"values": [50000, 100000, 150000], "format": "d", "title": "Timesteps", "labelOverlap": false, "tickCount": 20}},
      "y": {"field": "lo", "type": "quantitative", "scale": {"domain": [-51.7, -8.93], "nice": false, "zero": false}, "axis": {"values": [-50, -40, -30, -20, -10], "format": "d", "title": "Reward", "labelOverlap": false, "tickCount": 20}}, "y2": {"field": "hi"},
      "fill": {"field": "m", "type": "nominal", "legend": null}}},
    {"data": {"name": "lines"}, "transform": [{"filter": "datum.p == 'b' && indexof(['Demos','BC','OEFD','CQL','AWAC'], datum.m) >= 0"}], "mark": {"type": "line", "strokeWidth": 1.5},
     "encoding": {"x": {"field": "x", "type": "quantitative"}, "y": {"field": "y", "type": "quantitative"},
      "color": {"field": "m", "type": "nominal"}, "strokeDash": {"field": "m", "type": "nominal"}}},
    {"data": {"name": "lines"}, "transform": [{"filter": "datum.p == 'b' && indexof(['OEFD + MCAC','CQL + MCAC','AWAC + MCAC'], datum.m) >= 0"}], "mark": {"type": "line", "strokeWidth": 1.5},
     "encoding": {"x": {"field": "x", "type": "quantitative"}, "y": {"field": "y", "type": "quantitative"}, "stroke": {"field": "m", "type": "nominal"}}}
   ]},
  {"width": 291, "height": 227,
   "title": {"text": "(c) Sequential Pushing", "dx": -20},
   "layer": [
    {"data": {"name": "bands"}, "transform": [{"filter": "datum.p == 'c'"}], "mark": {"type": "area", "opacity": 0.11},
     "encoding": {"x": {"field": "x", "type": "quantitative", "scale": {"domain": [-7500, 157500], "nice": false, "zero": false}, "axis": {"values": [50000, 100000, 150000], "format": "d", "title": "Timesteps", "labelOverlap": false, "tickCount": 20}},
      "y": {"field": "lo", "type": "quantitative", "scale": {"domain": [-468.7, -29.3], "nice": false, "zero": false}, "axis": {"values": [-400, -300, -200, -100], "format": "d", "title": "Reward", "labelOverlap": false, "tickCount": 20}}, "y2": {"field": "hi"},
      "fill": {"field": "m", "type": "nominal", "legend": null}}},
    {"data": {"name": "lines"}, "transform": [{"filter": "datum.p == 'c' && indexof(['Demos','BC','OEFD','CQL','AWAC'], datum.m) >= 0"}], "mark": {"type": "line", "strokeWidth": 1.5},
     "encoding": {"x": {"field": "x", "type": "quantitative"}, "y": {"field": "y", "type": "quantitative"},
      "color": {"field": "m", "type": "nominal"}, "strokeDash": {"field": "m", "type": "nominal"}}},
    {"data": {"name": "lines"}, "transform": [{"filter": "datum.p == 'c' && indexof(['OEFD + MCAC','CQL + MCAC','AWAC + MCAC'], datum.m) >= 0"}], "mark": {"type": "line", "strokeWidth": 1.5},
     "encoding": {"x": {"field": "x", "type": "quantitative"}, "y": {"field": "y", "type": "quantitative"}, "stroke": {"field": "m", "type": "nominal"}}}
   ]}
 ], "spacing": 129, "bounds": "flush"},
 {"hconcat": [
  {"width": 75, "height": 228, "view": {"stroke": null}, "data": {"values": [{"k": 1}]}, "mark": {"type": "point", "opacity": 0}, "encoding": {}},
  {"width": 294, "height": 228,
   "title": {"text": "(d) Door Opening", "dx": -16},
   "layer": [
    {"data": {"name": "bands"}, "transform": [{"filter": "datum.p == 'd'"}], "mark": {"type": "area", "opacity": 0.11},
     "encoding": {"x": {"field": "x", "type": "quantitative", "scale": {"domain": [-7500, 157500], "nice": false, "zero": false}, "axis": {"values": [50000, 100000, 150000], "format": "d", "title": "Timesteps", "labelOverlap": false, "tickCount": 20}},
      "y": {"field": "lo", "type": "quantitative", "scale": {"domain": [-51.6, -13.2], "nice": false, "zero": false}, "axis": {"values": [-50, -45, -40, -35, -30, -25, -20, -15], "format": "d", "title": "Reward", "labelOverlap": false, "tickCount": 20}}, "y2": {"field": "hi"},
      "fill": {"field": "m", "type": "nominal", "legend": null}}},
    {"data": {"name": "lines"}, "transform": [{"filter": "datum.p == 'd' && indexof(['Demos','BC','OEFD','CQL','AWAC'], datum.m) >= 0"}], "mark": {"type": "line", "strokeWidth": 1.5},
     "encoding": {"x": {"field": "x", "type": "quantitative"}, "y": {"field": "y", "type": "quantitative"},
      "color": {"field": "m", "type": "nominal"}, "strokeDash": {"field": "m", "type": "nominal"}}},
    {"data": {"name": "lines"}, "transform": [{"filter": "datum.p == 'd' && indexof(['OEFD + MCAC','CQL + MCAC','AWAC + MCAC'], datum.m) >= 0"}], "mark": {"type": "line", "strokeWidth": 1.5},
     "encoding": {"x": {"field": "x", "type": "quantitative"}, "y": {"field": "y", "type": "quantitative"}, "stroke": {"field": "m", "type": "nominal"}}}
   ]},
  {"width": 295, "height": 228,
   "title": {"text": "(e) Block Lifting", "dx": -17},
   "layer": [
    {"data": {"name": "bands"}, "transform": [{"filter": "datum.p == 'e'"}], "mark": {"type": "area", "opacity": 0.11},
     "encoding": {"x": {"field": "x", "type": "quantitative", "scale": {"domain": [-7500, 157500], "nice": false, "zero": false}, "axis": {"values": [50000, 100000, 150000], "format": "d", "title": "Timesteps", "labelOverlap": false, "tickCount": 20}},
      "y": {"field": "lo", "type": "quantitative", "scale": {"domain": [-51.4, -17.7], "nice": false, "zero": false}, "axis": {"values": [-50, -45, -40, -35, -30, -25, -20], "format": "d", "title": "Reward", "labelOverlap": false, "tickCount": 20}}, "y2": {"field": "hi"},
      "fill": {"field": "m", "type": "nominal", "legend": null}}},
    {"data": {"name": "lines"}, "transform": [{"filter": "datum.p == 'e' && indexof(['Demos','BC','OEFD','CQL','AWAC'], datum.m) >= 0"}], "mark": {"type": "line", "strokeWidth": 1.5},
     "encoding": {"x": {"field": "x", "type": "quantitative"}, "y": {"field": "y", "type": "quantitative"},
      "color": {"field": "m", "type": "nominal"}, "strokeDash": {"field": "m", "type": "nominal"}}},
    {"data": {"name": "lines"}, "transform": [{"filter": "datum.p == 'e' && indexof(['OEFD + MCAC','CQL + MCAC','AWAC + MCAC'], datum.m) >= 0"}], "mark": {"type": "line", "strokeWidth": 1.5},
     "encoding": {"x": {"field": "x", "type": "quantitative"}, "y": {"field": "y", "type": "quantitative"}, "stroke": {"field": "m", "type": "nominal"}}}
   ]}
 ], "spacing": 125, "bounds": "flush"}
],
"spacing": 364,
"bounds": "flush",
"config": {
 "view": {"stroke": "#444", "strokeWidth": 1.2},
 "axis": {"domain": false, "grid": false, "tickSize": 3.5, "tickColor": "#000", "tickWidth": 0.8, "labelFont": "DejaVu Sans", "labelFontSize": 14, "labelColor": "#000", "labelPadding": 2, "labelFlush": false, "labelOverlap": false, "titleFont": "DejaVu Sans", "titleFontSize": 13.5, "titleFontWeight": "normal", "titleColor": "#000", "titlePadding": 3},
 "legend": {"symbolType": "stroke", "symbolSize": 2304, "symbolStrokeWidth": 2, "labelFont": "DejaVu Sans", "labelFontSize": 22, "labelColor": "#000", "labelOffset": 17, "columnPadding": 43, "padding": 0, "labelLimit": 400},
 "title": {"orient": "bottom", "frame": "group", "anchor": "middle", "font": "DejaVu Serif", "fontSize": 23, "fontWeight": "normal", "color": "#000", "offset": 32}
}
}
